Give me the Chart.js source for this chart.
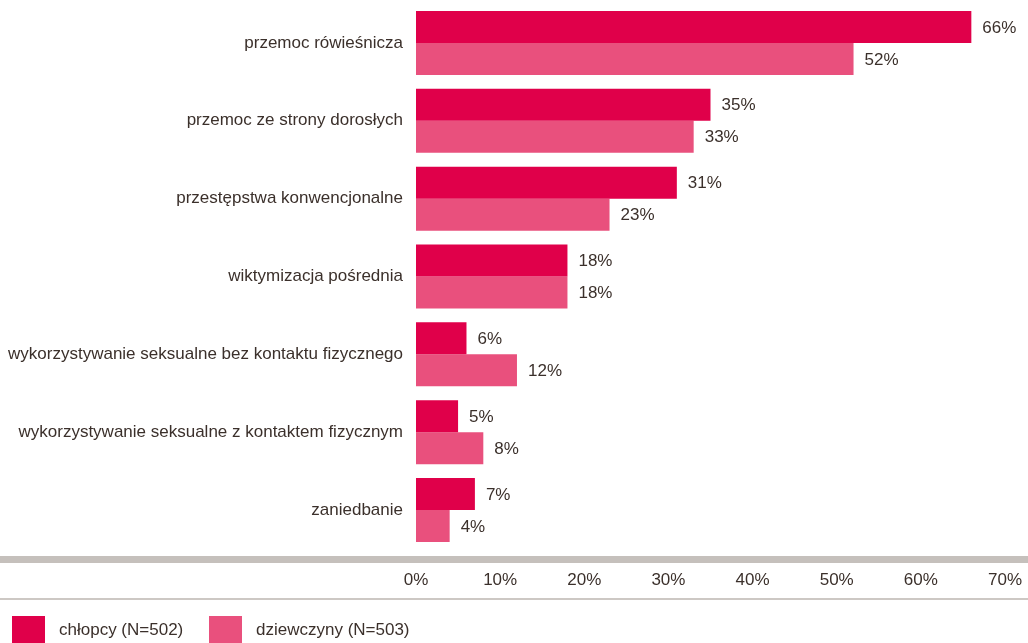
<!DOCTYPE html>
<html lang="pl">
<head>
<meta charset="utf-8">
<title>Wiktymizacja</title>
<script src="https://cdn.jsdelivr.net/npm/chart.js@4/dist/chart.umd.min.js"></script>
<style>
  html, body { margin: 0; padding: 0; background: #fff; }
  .wrap { position: relative; width: 1028px; height: 643px; overflow: hidden; }
  .wrap canvas { position: absolute; left: 0; top: 0; }
  .legend { position: absolute; left: 0; top: 616px; height: 27px; }
  .leg-item { position: absolute; top: 0; display: flex; align-items: center; height: 27px;
              font: 17px 'Liberation Sans', Arial, sans-serif; color: #3b302b; white-space: nowrap; }
  .leg-box { width: 33px; height: 27px; margin-right: 14px; }
</style>
</head>
<body>
<div class="wrap">
  <canvas id="cBar" width="1028" height="643"></canvas>
  <div class="legend" id="legend"></div>
</div>
<script>
const categories = [
  "przemoc rówieśnicza",
  "przemoc ze strony dorosłych",
  "przestępstwa konwencjonalne",
  "wiktymizacja pośrednia",
  "wykorzystywanie seksualne bez kontaktu fizycznego",
  "wykorzystywanie seksualne z kontaktem fizycznym",
  "zaniedbanie"
];
const boys  = [66, 35, 31, 18, 6, 5, 7];
const girls = [52, 33, 23, 18, 12, 8, 4];
const seriesNames = ["chłopcy (N=502)", "dziewczyny (N=503)"];
const xTicks = [0, 10, 20, 30, 40, 50, 60, 70];

const FONT = "'Liberation Sans', Arial, sans-serif";
const TXT  = "#3b302b";
const colors = ["#e0004a", "#e9507d"];

/* ── etykiety wartości obok słupków ── */
const valueLabels = {
  id: "valueLabels",
  afterDatasetsDraw(chart) {
    const ctx = chart.ctx;
    ctx.save();
    ctx.font = "17px " + FONT;
    ctx.fillStyle = TXT;
    ctx.textAlign = "left";
    ctx.textBaseline = "middle";
    chart.data.datasets.forEach((ds, i) => {
      chart.getDatasetMeta(i).data.forEach((bar, j) => {
        ctx.fillText(ds.data[j] + "%", bar.x + 11, bar.y + 1);
      });
    });
    ctx.restore();
  }
};

/* ── szare linie nad i pod osią ── */
const axisRules = {
  id: "axisRules",
  beforeDraw(chart) {
    const ctx = chart.ctx;
    ctx.save();
    ctx.fillStyle = "#c5c0bc";
    ctx.fillRect(0, 556, chart.width, 7);
    ctx.fillStyle = "#cdc8c4";
    ctx.fillRect(0, 598, chart.width, 2);
    ctx.restore();
  }
};

// bez dodatkowych marginesów od etykiet - obszar wykresu ustawiamy sami
const noPad = s => { s.paddingTop = 0; s.paddingBottom = 0; s.paddingLeft = 0; s.paddingRight = 0; };

new Chart(document.getElementById("cBar"), {
  type: "bar",
  data: {
    labels: categories,
    datasets: [
      { label: seriesNames[0], data: boys,  backgroundColor: colors[0] },
      { label: seriesNames[1], data: girls, backgroundColor: colors[1] }
    ]
  },
  options: {
    indexAxis: "y",
    responsive: false,
    animation: false,
    layout: { padding: { top: 4, right: 23, left: 0, bottom: 0 } },
    datasets: { bar: { barPercentage: 1, categoryPercentage: 0.822, borderWidth: 0 } },
    plugins: { legend: { display: false }, tooltip: { enabled: false } },
    scales: {
      x: {
        min: 0, max: 70,
        afterBuildTicks: s => { s.ticks = xTicks.map(v => ({ value: v })); },
        afterFit: s => { s.height = 94; noPad(s); },
        grid: { display: false, drawTicks: false },
        border: { display: false },
        ticks: { padding: 21, color: TXT, font: { size: 17, family: FONT }, callback: v => v + "%" }
      },
      y: {
        afterFit: s => { s.width = 416; noPad(s); },
        grid: { display: false, drawTicks: false },
        border: { display: false },
        ticks: { padding: 13, color: TXT, font: { size: 17, family: FONT } }
      }
    }
  },
  plugins: [valueLabels, axisRules]
});

/* ── legenda ── */
const legend = document.getElementById("legend");
const legX = [12, 209];
seriesNames.forEach((name, i) => {
  const item = document.createElement("div");
  item.className = "leg-item";
  item.style.left = legX[i] + "px";
  item.innerHTML = '<span class="leg-box" style="background:' + colors[i] + '"></span><span>' + name + '</span>';
  legend.appendChild(item);
});
</script>
</body>
</html>
